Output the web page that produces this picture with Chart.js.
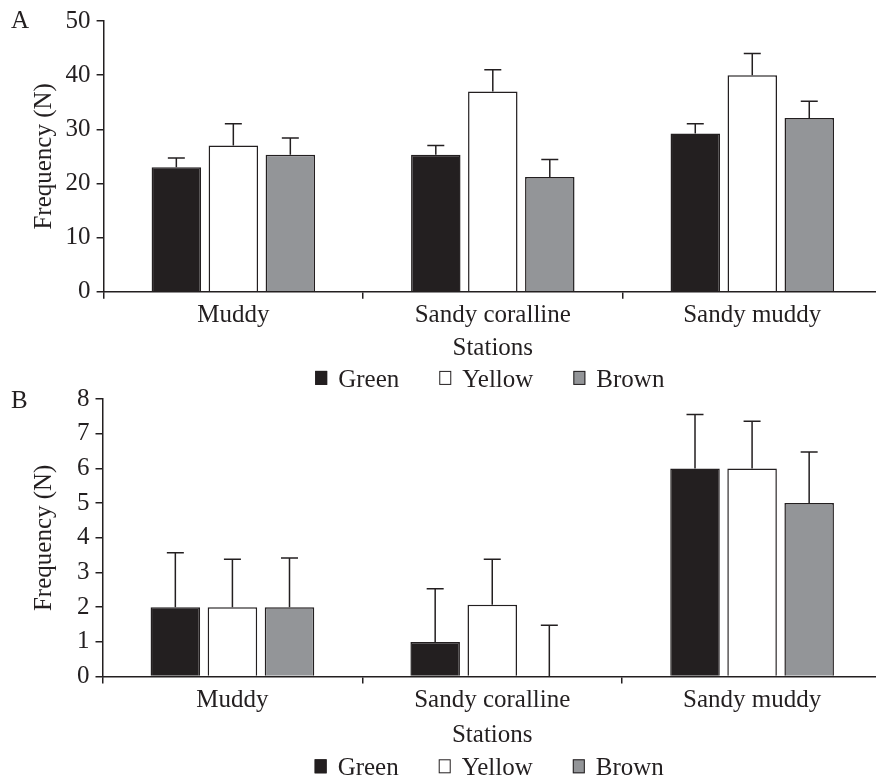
<!DOCTYPE html>
<html><head><meta charset="utf-8">
<script src="https://cdn.jsdelivr.net/npm/chart.js@4.4.0/dist/chart.umd.min.js"></script>
<style>
html,body{margin:0;padding:0;background:#fff;overflow:hidden;width:876px;height:776px;}
.wrap{position:absolute;left:0;width:876px;overflow:hidden;}
#wa{top:0;height:392px;}
#wb{top:378px;height:398px;}
canvas{position:absolute;left:0;top:0;}
</style></head><body>
<div class="wrap" id="wa"><canvas id="ca" width="884" height="392"></canvas></div>
<div class="wrap" id="wb"><canvas id="cb" width="884" height="398"></canvas></div>
<script>
// ---- data ----
const stations = ['Muddy', 'Sandy coralline', 'Sandy muddy'];
const seriesNames = ['Green', 'Yellow', 'Brown'];
const xTitle = 'Stations';
const yTitle = 'Frequency (N)';

// Panel A (means and upper error = SD)
const aGreen = [23.0, 25.3, 29.2];
const aYellow = [27.0, 37.0, 40.0];
const aBrown = [25.3, 21.2, 32.1];
const aGreenErr = [1.7, 1.7, 1.8];
const aYellowErr = [4.0, 4.0, 4.0];
const aBrownErr = [3.1, 3.2, 3.1];
const aTicks = [0, 10, 20, 30, 40, 50];

// Panel B
const bGreen = [2, 1, 6];
const bYellow = [2, 2.07, 6];
const bBrown = [2, 0, 5];
const bGreenErr = [1.57, 1.53, 1.55];
const bYellowErr = [1.38, 1.31, 1.36];
const bBrownErr = [1.42, 1.48, 1.47];
const bTicks = [0, 1, 2, 3, 4, 5, 6, 7, 8];

// ---- styling ----
const ink = '#231f20';
const fills = ['#231f20', '#ffffff', '#939598'];
const FONT = '"Liberation Serif", "Times New Roman", serif';
Chart.defaults.font.family = FONT;
Chart.defaults.font.size = 25;
Chart.defaults.color = ink;

const decor = {
  id: 'decor',
  afterDatasetsDraw(chart, args, opts) {
    const ctx = chart.ctx, y = chart.scales.y;
    ctx.save();
    ctx.strokeStyle = ink;
    ctx.lineWidth = 1.5;
    chart.data.datasets.forEach((ds, i) => {
      const meta = chart.getDatasetMeta(i);
      meta.data.forEach((bar, j) => {
        const top = y.getPixelForValue(ds.data[j] + ds.errors[j]);
        ctx.beginPath();
        ctx.moveTo(bar.x, bar.y);
        ctx.lineTo(bar.x, top);
        ctx.moveTo(bar.x - 8.5, top);
        ctx.lineTo(bar.x + 8.5, top);
        ctx.stroke();
      });
    });
    ctx.restore();
  },
  afterDraw(chart, args, opts) {
    const ctx = chart.ctx;
    ctx.save();
    ctx.font = '25px ' + FONT;
    ctx.fillStyle = ink;
    ctx.textBaseline = 'alphabetic';
    ctx.textAlign = 'left';
    // panel letter
    ctx.fillText(opts.panel, 11, opts.panelBaseline);
    // legend
    const ds = chart.data.datasets;
    const box = 12, gap = 11, spacing = 40;
    const widths = ds.map(d => ctx.measureText(d.label).width);
    let total = 0;
    widths.forEach((w, i) => { total += box + gap + w + (i < widths.length - 1 ? spacing : 0); });
    const ca = chart.chartArea;
    let x = (ca.left + ca.right) / 2 - total / 2 + opts.legendShift;
    const base = chart.scales.x.bottom + opts.legendOffset;
    ds.forEach((d, i) => {
      ctx.fillStyle = d.backgroundColor;
      ctx.fillRect(x, base - 16, box, 14);
      ctx.strokeStyle = ink;
      ctx.lineWidth = 1;
      ctx.strokeRect(x + 0.5, base - 15.5, box - 1, 13);
      ctx.fillStyle = ink;
      ctx.fillText(d.label, x + box + gap, base);
      x += box + gap + widths[i] + spacing;
    });
    ctx.restore();
  }
};

function makeChart(id, series, errs, ticks, ymax, pad, yTitlePad, xTitlePad, panel, panelBaseline, legendOffset) {
  return new Chart(document.getElementById(id), {
    type: 'bar',
    data: {
      labels: stations,
      datasets: series.map((s, i) => ({
        label: seriesNames[i],
        data: s,
        errors: errs[i],
        backgroundColor: fills[i],
        borderColor: ink,
        borderWidth: 1.5,
        categoryPercentage: 0.659,
        barPercentage: 0.868
      }))
    },
    options: {
      responsive: false,
      animation: false,
      devicePixelRatio: 1,
      layout: { padding: pad },
      plugins: {
        legend: { display: false },
        tooltip: { enabled: false },
        decor: { panel: panel, panelBaseline: panelBaseline, legendOffset: legendOffset, legendShift: -3 }
      },
      scales: {
        x: {
          type: 'category',
          offset: true,
          grid: { offset: true, drawOnChartArea: false, drawTicks: true, tickLength: 7, color: ink, lineWidth: 1.5 },
          border: { display: true, color: ink, width: 1.5 },
          ticks: { autoSkip: false, maxRotation: 0, padding: 2, color: ink },
          title: { display: true, text: xTitle, padding: { top: xTitlePad, bottom: 0 }, color: ink }
        },
        y: {
          min: 0,
          max: ymax,
          afterBuildTicks: s => { s.ticks = ticks.map(v => ({ value: v })); },
          grid: { drawOnChartArea: false, drawTicks: true, tickLength: 7, color: ink, lineWidth: 1.5 },
          border: { display: true, color: ink, width: 1.5 },
          ticks: { padding: 6, color: ink },
          title: { display: true, text: yTitle, padding: yTitlePad, color: ink }
        }
      }
    },
    plugins: [decor]
  });
}

makeChart('ca', [aGreen, aYellow, aBrown], [aGreenErr, aYellowErr, aBrownErr], aTicks, 50,
  { top: 20, left: 0, right: 2, bottom: 28.7 }, { top: 29.6, bottom: 0 }, 0.6, 'A', 28, 23.6);
makeChart('cb', [bGreen, bYellow, bBrown], [bGreenErr, bYellowErr, bBrownErr], bTicks, 8,
  { top: 21, left: 0, right: 2, bottom: 26 }, { top: 29.6, bottom: 11.4 }, 2.4, 'B', 30, 25.3);
</script>
</body></html>
